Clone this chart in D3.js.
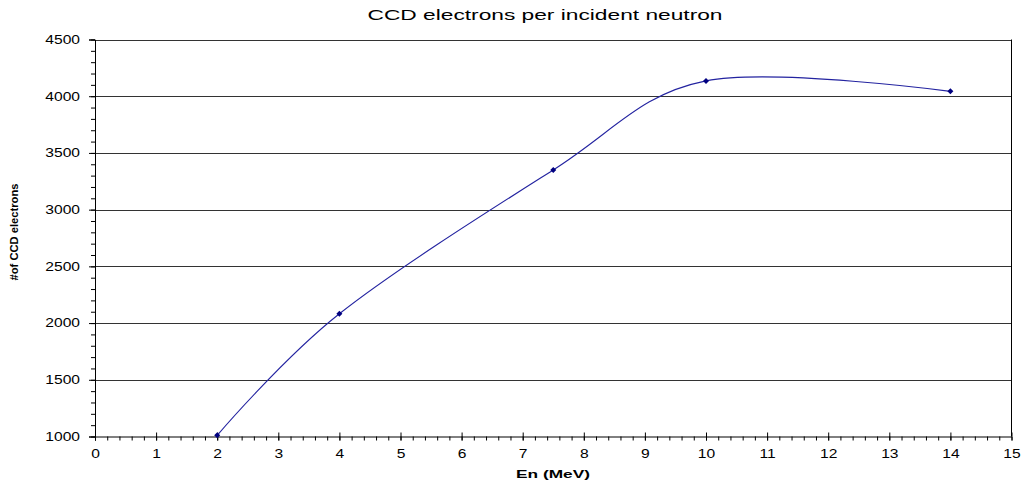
<!DOCTYPE html>
<html>
<head>
<meta charset="utf-8">
<script src="https://cdn.jsdelivr.net/npm/d3@7"></script>
<style>
  body { margin: 0; background: #fff; }
  text { font-family: "Liberation Sans", Arial, sans-serif; fill: #000; }
</style>
</head>
<body>
<svg id="chart" width="1023" height="483"></svg>
<script>
// data
var energies = [2, 4, 7.5, 10, 14];
var electrons = [1010, 2082, 3350, 4135, 4043];
var xTicks = [0, 1, 2, 3, 4, 5, 6, 7, 8, 9, 10, 11, 12, 13, 14, 15];
var yTicks = [1000, 1500, 2000, 2500, 3000, 3500, 4000, 4500];

var plotLeft = 95, plotRight = 1011.5, plotTop = 39.5, plotBottom = 436.5;
var stretch = 1.3;

var svg = d3.select('#chart');

var x = d3.scaleLinear().domain([0, 15]).range([plotLeft, plotRight]);
var y = d3.scaleLinear().domain([1000, 4500]).range([plotBottom, plotTop]);

// horizontal grid lines
svg.append('g')
   .selectAll('line')
   .data(yTicks.slice(1))
   .enter()
   .append('line')
   .attr('x1', plotLeft).attr('x2', plotRight)
   .attr('y1', function(d){ return Math.round(y(d)) + 0.5; })
   .attr('y2', function(d){ return Math.round(y(d)) + 0.5; })
   .attr('stroke', '#333')
   .attr('stroke-width', 1);

// right border
svg.append('line')
   .attr('x1', plotRight).attr('x2', plotRight)
   .attr('y1', plotTop).attr('y2', plotBottom)
   .attr('stroke', '#000');

// y axis, minor ticks then major ticks
var yMinor = d3.range(1000, 4501, 100);
svg.append('g')
   .attr('transform', 'translate(' + plotLeft + ',0)')
   .call(d3.axisLeft(y).tickValues(yMinor).tickSize(4).tickFormat(''))
   .call(function(g){ g.select('.domain').remove(); });

var yAxis = svg.append('g')
   .attr('transform', 'translate(' + plotLeft + ',0)')
   .call(d3.axisLeft(y).tickValues(yTicks).tickSize(6).tickPadding(9).tickFormat(d3.format('d')));
yAxis.selectAll('text').style('font-size', '12px');

// x axis, minor ticks below, major ticks crossing
var xMinor = d3.range(0, 75).map(function(i){ return i * 0.2; });
svg.append('g')
   .attr('transform', 'translate(0,' + plotBottom + ')')
   .call(d3.axisBottom(x).tickValues(xMinor).tickSize(4).tickFormat(''))
   .call(function(g){ g.select('.domain').remove(); });

var xAxis = svg.append('g')
   .attr('transform', 'translate(0,' + plotBottom + ')')
   .call(d3.axisBottom(x).tickValues(xTicks).tickSize(4).tickPadding(9).tickFormat(d3.format('d')));
xAxis.selectAll('.tick line').attr('y1', -4);
xAxis.selectAll('text').style('font-size', '12px');

// curve
var pts = energies.map(function(e, i){ return [e, electrons[i]]; });
var line = d3.line()
   .x(function(d){ return x(d[0]); })
   .y(function(d){ return y(d[1]); })
   .curve(d3.curveCatmullRom.alpha(0));

svg.append('path')
   .datum(pts)
   .attr('d', line)
   .attr('fill', 'none')
   .attr('stroke', '#2323a0')
   .attr('stroke-width', 1.1);

// diamond markers (squares turned 45 degrees)
svg.append('g')
   .selectAll('path')
   .data(pts)
   .enter()
   .append('path')
   .attr('d', d3.symbol().type(d3.symbolSquare).size(18))
   .attr('transform', function(d){ return 'translate(' + x(d[0]) + ',' + y(d[1]) + ') rotate(45)'; })
   .attr('fill', '#000080');

// titles
svg.append('text')
   .attr('x', 545).attr('y', 20)
   .attr('text-anchor', 'middle')
   .style('font-size', '14px')
   .attr('textLength', 355)
   .attr('lengthAdjust', 'spacingAndGlyphs')
   .text('CCD electrons per incident neutron');

svg.append('text')
   .attr('x', 553).attr('y', 478)
   .attr('text-anchor', 'middle')
   .style('font-size', '11px')
   .style('font-weight', 'bold')
   .attr('textLength', 74)
   .attr('lengthAdjust', 'spacingAndGlyphs')
   .text('En (MeV)');

svg.append('text')
   .attr('transform', 'translate(18,232) rotate(-90)')
   .attr('text-anchor', 'middle')
   .style('font-size', '11.5px')
   .style('font-weight', 'bold')
   .attr('textLength', 97)
   .attr('lengthAdjust', 'spacingAndGlyphs')
   .text('#of CCD electrons');

// widen tick labels like the original
svg.selectAll('.tick text').each(function(){
  var w = this.getComputedTextLength();
  d3.select(this)
    .attr('textLength', w * stretch)
    .attr('lengthAdjust', 'spacingAndGlyphs');
});
</script>
</body>
</html>
